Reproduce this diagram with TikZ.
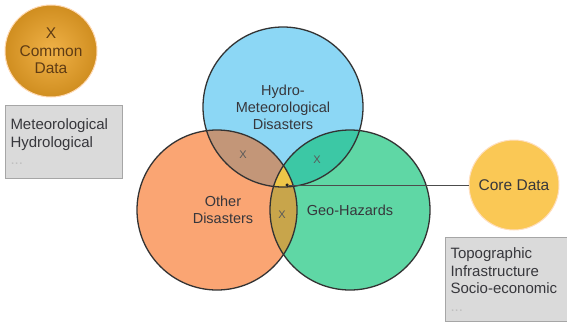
\documentclass[tikz,border=0pt]{standalone}
\usepackage{fontspec}
\setmainfont{Liberation Sans}
\usepackage{tikz}
\usepackage{xcolor}

\definecolor{hydroblue}{RGB}{140,215,245}
\definecolor{otherorange}{RGB}{250,165,115}
\definecolor{geogreen}{RGB}{95,215,165}
\definecolor{hydroother}{RGB}{195,150,120}
\definecolor{hydrogeo}{RGB}{60,200,165}
\definecolor{othergeo}{RGB}{200,165,75}
\definecolor{allthree}{RGB}{238,198,72}
\definecolor{coreyellow}{RGB}{250,200,85}
\definecolor{boxgray}{RGB}{218,218,218}
\definecolor{textgray}{RGB}{55,55,60}

\tikzset{
  venn/.style={circle, draw=black!80, line width=1.3pt, minimum size=160pt,
    inner sep=0pt, align=center, text=textgray, font=\fontsize{14.5}{17}\selectfont},
  datacircle/.style={circle, inner sep=0pt, align=center, font=\fontsize{15.5}{17.5}\selectfont},
  listbox/.style={rectangle, draw=black!35, line width=1pt, fill=boxgray, anchor=north west,
    align=left, inner sep=5pt, text=textgray, font=\fontsize{15}{17.5}\selectfont},
  xmark/.style={text=black!65, font=\fontsize{11}{13}\selectfont, inner sep=0pt}
}

\begin{document}
\begin{tikzpicture}[x=1pt, y=-1pt]
    \useasboundingbox (0,0) rectangle (567,324);
    \coordinate (hc) at (283,107);
    \coordinate (oc) at (217,210);
    \coordinate (gc) at (350,210);
    % Venn fills
    \fill[hydroblue] (hc) circle[radius=80pt];
    \fill[otherorange] (oc) circle[radius=80pt];
    \fill[geogreen] (gc) circle[radius=80pt];
    \begin{scope}
      \clip (hc) circle[radius=80pt];
      \fill[hydroother] (oc) circle[radius=80pt];
      \fill[hydrogeo] (gc) circle[radius=80pt];
    \end{scope}
    \begin{scope}
      \clip (oc) circle[radius=80pt];
      \fill[othergeo] (gc) circle[radius=80pt];
      \clip (gc) circle[radius=80pt];
      \fill[allthree] (hc) circle[radius=80pt];
    \end{scope}
    % Venn outlines and labels
    \node[venn] (hydro) at (hc) {Hydro-\\Meteorological\\Disasters};
    \node[venn] (other) at (oc) {\hspace*{12pt}Other\\\hspace*{12pt}Disasters};
    \node[venn] (geo) at (gc) {\raisebox{-5pt}{Geo-Hazards}};
    \node[xmark] (xho) at (243,155) {X};
    \node[xmark] (xhg) at (317,160) {X};
    \node[xmark] (xog) at (282,215) {X};
    % Common data
    \node[datacircle, minimum size=92pt, draw=orange!30!white, line width=1pt,
      inner color={rgb,255:red,240;green,178;blue,72}, outer color={rgb,255:red,208;green,142;blue,32},
      text={rgb,255:red,95;green,60;blue,20}] (common) at (51,51) {X\\Common\\Data};
    \node[listbox, minimum width=117pt, minimum height=73pt, text width=107pt] (commonlist) at (5,105)
      {Meteorological\\Hydrological\\\textcolor{black!25}{...}};
    % Core data
    \node[datacircle, minimum size=90pt, fill=coreyellow, draw=orange!25!white, line width=1pt,
      text=textgray] (core) at (514,185) {Core Data};
    \node[fill=black!85, circle, inner sep=0pt, minimum size=3.5pt] (hub) at (287,185) {};
    \draw[black!70, line width=0.8pt] (hub) -- (core);
    \node[listbox, minimum width=120pt, minimum height=84pt, text width=112pt] (corelist) at (445,237)
      {Topographic\\Infrastructure\\Socio-economic\\\textcolor{black!25}{...}};
\end{tikzpicture}
\end{document}
